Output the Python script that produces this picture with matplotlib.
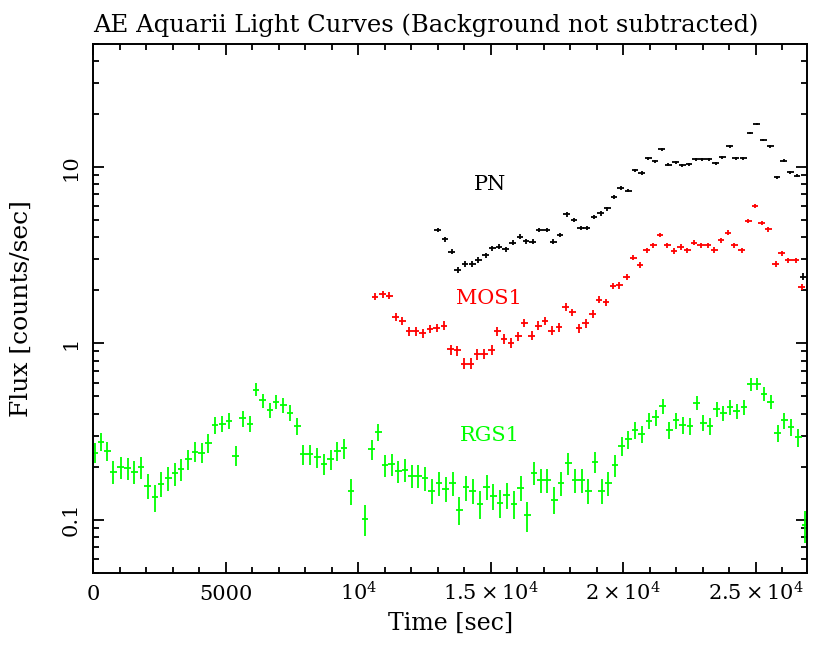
import matplotlib
matplotlib.use('Agg')
import matplotlib.pyplot as plt
import numpy as np
from matplotlib.ticker import FixedLocator, FixedFormatter, MultipleLocator, LogLocator, NullFormatter

plt.rcParams['font.family'] = ['DejaVu Serif']
plt.rcParams['mathtext.fontset'] = 'dejavuserif'

# bin width of the light curves (s)
bin_width = 252.0

# PN (black)
pn_time = [12995, 13272, 13523, 13750, 14026, 14303, 14529, 14806, 15058, 15309,
           15561, 15825, 16102, 16328, 16580, 16831, 17108, 17359, 17611, 17863,
           18140, 18391, 18618, 18894, 19146, 19397, 19649, 19901, 20190, 20442,
           20693, 20945, 21196, 21448, 21699, 21976, 22227, 22479, 22731, 22982,
           23234, 23485, 23737, 24014, 24240, 24529, 24781, 25033, 25284, 25548,
           25800, 26052, 26303, 26555, 26790]
pn_rate = [4.396, 3.894, 3.317, 2.603, 2.814, 2.838, 2.977, 3.163, 3.464, 3.540,
           3.420, 3.729, 4.032, 3.811, 3.778, 4.396, 4.396, 3.778, 4.121, 5.391,
           5.008, 4.533, 4.533, 5.207, 5.462, 5.830, 6.753, 7.625, 7.365, 9.594,
           9.267, 11.26, 10.78, 12.66, 10.32, 10.69, 10.24, 10.42, 11.12, 11.12,
           11.12, 10.55, 11.36, 13.11, 11.26, 11.26, 15.58, 17.52, 14.29, 13.16,
           8.757, 10.88, 9.346, 8.95, 2.397]

# MOS1 (red)
mos_time = [10630, 10919, 11171, 11410, 11661, 11925, 12177, 12429, 12706, 12957,
            13234, 13486, 13737, 14001, 14253, 14491, 14756, 15033, 15246, 15498,
            15762, 16039, 16265, 16542, 16793, 17045, 17297, 17574, 17825, 18077,
            18328, 18580, 18844, 19083, 19347, 19610, 19860, 20127, 20378, 20630,
            20882, 21133, 21385, 21661, 21913, 22165, 22416, 22668, 22919, 23184,
            23435, 23687, 23951, 24190, 24466, 24718, 24970, 25221, 25473, 25750,
            25976, 26228, 26505, 26740]
mos_rate = [1.840, 1.905, 1.864, 1.407, 1.347, 1.173, 1.173, 1.143, 1.208, 1.224,
            1.262, 0.924, 0.912, 0.767, 0.767, 0.866, 0.873, 0.920, 1.173, 1.061,
            1.007, 1.099, 1.307, 1.108, 1.262, 1.347, 1.183, 1.235, 1.616, 1.501,
            1.22, 1.301, 1.469, 1.770, 1.709, 2.123, 2.141, 2.386, 3.068, 2.790,
            3.376, 3.603, 4.121, 3.618, 3.347, 3.525, 3.376, 3.729, 3.618, 3.618,
            3.391, 3.845, 4.248, 3.618, 3.376, 4.943, 6.007, 4.836, 4.436, 2.814,
            3.246, 2.964, 2.964, 2.096]

# RGS1 (green)
rgs_time = [60, 291, 530, 756, 1032, 1297, 1548, 1800, 2052, 2328,
            2555, 2831, 3083, 3309, 3586, 3838, 4089, 4341, 4592, 4869,
            5121, 5372, 5636, 5913, 6140, 6391, 6668, 6894, 7171, 7423,
            7699, 7926, 8177, 8454, 8706, 8957, 9209, 9460, 9725,
            10253, 10504, 10756, 11008, 11259, 11511, 11762, 12014, 12265, 12517,
            12769, 13045, 13297, 13561, 13812, 14064, 14316, 14592, 14844, 15095,
            15347, 15599, 15875, 16127, 16378, 16630, 16882, 17133, 17397, 17649,
            17926, 18177, 18429, 18680, 18932, 19184, 19435, 19687, 19938, 20190,
            20442, 20693, 20970, 21221, 21485, 21737, 21989, 22240, 22517, 22768,
            23020, 23272, 23523, 23775, 24026, 24277, 24555, 24806, 25058, 25309,
            25560, 25825, 26077, 26328, 26605, 26856]
rgs_rate = [0.240, 0.277, 0.246, 0.187, 0.198, 0.196, 0.187, 0.198, 0.156, 0.134,
            0.160, 0.172, 0.183, 0.193, 0.220, 0.243, 0.240, 0.273, 0.344, 0.351,
            0.364, 0.231, 0.375, 0.351, 0.547, 0.476, 0.418, 0.466, 0.446, 0.405,
            0.340, 0.235, 0.235, 0.226, 0.207, 0.220, 0.246, 0.254, 0.145,
            0.101, 0.251, 0.313, 0.203, 0.206, 0.189, 0.192, 0.177, 0.177, 0.172,
            0.146, 0.161, 0.150, 0.162, 0.114, 0.153, 0.146, 0.123, 0.154, 0.137,
            0.125, 0.138, 0.123, 0.152, 0.106, 0.185, 0.167, 0.168, 0.130, 0.161,
            0.209, 0.167, 0.167, 0.146, 0.212, 0.146, 0.161, 0.204, 0.262, 0.285,
            0.322, 0.306, 0.364, 0.380, 0.442, 0.322, 0.367, 0.344, 0.341, 0.462,
            0.354, 0.341, 0.422, 0.404, 0.436, 0.414, 0.436, 0.586, 0.591, 0.519,
            0.466, 0.311, 0.367, 0.334, 0.293, 0.093]

xtick_pos = [0, 5000, 10000, 15000, 20000, 25000]
xtick_labels = ['0', '5000', r'$10^4$', r'$1.5\times10^4$', r'$2\times10^4$', r'$2.5\times10^4$']
ytick_pos = [0.1, 1, 10]
ytick_labels = ['0.1', '1', '10']


def poisson_err(rate):
    # counting error for one bin
    return np.sqrt(np.array(rate) / bin_width)


fig = plt.figure(figsize=(8.3, 6.64), dpi=100)
ax = fig.add_axes([0.1124, 0.1375, 0.8603, 0.7962])

series = [(pn_time, pn_rate, 'black'),
          (mos_time, mos_rate, '#ff0000'),
          (rgs_time, rgs_rate, '#00ff00')]
for t, r, c in series:
    ax.errorbar(t, r, xerr=bin_width / 2, yerr=poisson_err(r), fmt='none',
                ecolor=c, elinewidth=1.3, capsize=0)

ax.set_yscale('log')
ax.set_xlim(0, 26950)
ax.set_ylim(0.05, 50)

ax.xaxis.set_major_locator(FixedLocator(xtick_pos))
ax.xaxis.set_major_formatter(FixedFormatter(xtick_labels))
ax.xaxis.set_minor_locator(MultipleLocator(1000))
ax.yaxis.set_major_locator(FixedLocator(ytick_pos))
ax.yaxis.set_major_formatter(FixedFormatter(ytick_labels))
ax.yaxis.set_minor_locator(LogLocator(base=10, subs=np.arange(2, 10)))
ax.yaxis.set_minor_formatter(NullFormatter())

ax.tick_params(which='both', direction='in', top=True, right=True, width=1.3, labelsize=15)
ax.tick_params(which='major', length=8)
ax.tick_params(which='minor', length=4)
ax.tick_params(axis='x', which='major', pad=20)
ax.tick_params(axis='y', which='major', pad=9)
for lab in ax.get_xticklabels():
    lab.set_va('baseline')
for lab in ax.get_yticklabels():
    lab.set_rotation(90)
    lab.set_va('center')
for sp in ax.spines.values():
    sp.set_linewidth(1.4)

ax.set_xlabel('Time [sec]', fontsize=17)
ax.set_ylabel('Flux [counts/sec]', fontsize=18)
ax.xaxis.set_label_coords(0.5, -0.074)
ax.yaxis.set_label_coords(-0.0845, 0.5)
ax.set_title('AE Aquarii Light Curves (Background not subtracted)', loc='left',
             fontsize=17.5, pad=8.4)

ax.text(14989, 8.0, 'PN', color='black', fontsize=15, ha='center', va='center')
ax.text(14951, 1.79, 'MOS1', color='#ff0000', fontsize=15, ha='center', va='center')
ax.text(14970, 0.302, 'RGS1', color='#00ff00', fontsize=15, ha='center', va='center')

fig.savefig('out.png', dpi=100)
